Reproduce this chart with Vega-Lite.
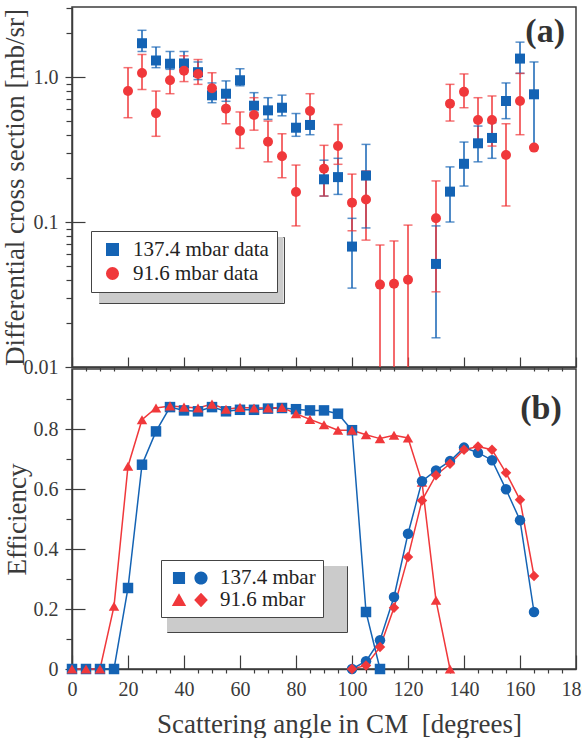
{
"$schema": "https://vega.github.io/schema/vega-lite/v6.json",
"padding": {"left": 0, "top": 6, "right": 0, "bottom": 0},
"bounds": "flush",
"spacing": 2,
"config": {
  "font": "'Liberation Serif', 'Times New Roman', Times, serif",
  "view": {"stroke": "#3c3c3c", "strokeWidth": 1.5},
  "axis": {"grid": false, "labelFont": "'Liberation Serif', 'Times New Roman', Times, serif", "titleFont": "'Liberation Serif', 'Times New Roman', Times, serif", "labelFontSize": 20, "titleFontSize": 27, "titleFontWeight": "normal", "labelColor": "#3a3a3a", "titleColor": "#3a3a3a", "domainColor": "#3c3c3c", "tickColor": "#3c3c3c", "domainWidth": 1.5, "tickWidth": 1.2, "labelFlush": false, "labelOverlap": false},
  "legend": {"labelFont": "'Liberation Serif', 'Times New Roman', Times, serif", "labelFontSize": 21, "labelColor": "#222222", "strokeColor": "#444444", "fillColor": "#ffffff", "title": null}
},
"datasets": {
  "xs": [
    {"s": "137.4 mbar data", "a": 25, "v": 1.71, "lo": 1.50, "hi": 2.10},
    {"s": "137.4 mbar data", "a": 30, "v": 1.30, "lo": 1.16, "hi": 1.61},
    {"s": "137.4 mbar data", "a": 35, "v": 1.235, "lo": 1.13, "hi": 1.50},
    {"s": "137.4 mbar data", "a": 40, "v": 1.24, "lo": 1.13, "hi": 1.50},
    {"s": "137.4 mbar data", "a": 45, "v": 1.08, "lo": 0.96, "hi": 1.27},
    {"s": "137.4 mbar data", "a": 50, "v": 0.748, "lo": 0.665, "hi": 0.91},
    {"s": "137.4 mbar data", "a": 55, "v": 0.767, "lo": 0.68, "hi": 0.94},
    {"s": "137.4 mbar data", "a": 60, "v": 0.95, "lo": 0.87, "hi": 1.14},
    {"s": "137.4 mbar data", "a": 65, "v": 0.634, "lo": 0.57, "hi": 0.78},
    {"s": "137.4 mbar data", "a": 70, "v": 0.589, "lo": 0.51, "hi": 0.72},
    {"s": "137.4 mbar data", "a": 75, "v": 0.614, "lo": 0.54, "hi": 0.75},
    {"s": "137.4 mbar data", "a": 80, "v": 0.447, "lo": 0.39, "hi": 0.56},
    {"s": "137.4 mbar data", "a": 85, "v": 0.467, "lo": 0.40, "hi": 0.60},
    {"s": "137.4 mbar data", "a": 90, "v": 0.197, "lo": 0.151, "hi": 0.267},
    {"s": "137.4 mbar data", "a": 95, "v": 0.204, "lo": 0.155, "hi": 0.275},
    {"s": "137.4 mbar data", "a": 100, "v": 0.0677, "lo": 0.035, "hi": 0.106},
    {"s": "137.4 mbar data", "a": 105, "v": 0.209, "lo": 0.091, "hi": 0.343},
    {"s": "137.4 mbar data", "a": 130, "v": 0.0514, "lo": 0.0159, "hi": 0.094},
    {"s": "137.4 mbar data", "a": 135, "v": 0.162, "lo": 0.10, "hi": 0.24},
    {"s": "137.4 mbar data", "a": 140, "v": 0.252, "lo": 0.177, "hi": 0.356},
    {"s": "137.4 mbar data", "a": 145, "v": 0.349, "lo": 0.26, "hi": 0.459},
    {"s": "137.4 mbar data", "a": 150, "v": 0.38, "lo": 0.275, "hi": 0.484},
    {"s": "137.4 mbar data", "a": 155, "v": 0.683, "lo": 0.516, "hi": 0.91},
    {"s": "137.4 mbar data", "a": 160, "v": 1.34, "lo": 1.06, "hi": 1.74},
    {"s": "137.4 mbar data", "a": 165, "v": 0.76, "lo": 0.33, "hi": 1.27},
    {"s": "91.6 mbar data", "a": 20, "v": 0.80, "lo": 0.524, "hi": 1.16},
    {"s": "91.6 mbar data", "a": 25, "v": 1.065, "lo": 0.82, "hi": 1.43},
    {"s": "91.6 mbar data", "a": 30, "v": 0.562, "lo": 0.39, "hi": 0.80},
    {"s": "91.6 mbar data", "a": 35, "v": 0.95, "lo": 0.767, "hi": 1.25},
    {"s": "91.6 mbar data", "a": 40, "v": 1.105, "lo": 0.93, "hi": 1.40},
    {"s": "91.6 mbar data", "a": 45, "v": 1.05, "lo": 0.89, "hi": 1.32},
    {"s": "91.6 mbar data", "a": 50, "v": 0.836, "lo": 0.72, "hi": 1.07},
    {"s": "91.6 mbar data", "a": 55, "v": 0.605, "lo": 0.476, "hi": 0.80},
    {"s": "91.6 mbar data", "a": 60, "v": 0.424, "lo": 0.322, "hi": 0.574},
    {"s": "91.6 mbar data", "a": 65, "v": 0.547, "lo": 0.43, "hi": 0.72},
    {"s": "91.6 mbar data", "a": 70, "v": 0.358, "lo": 0.26, "hi": 0.497},
    {"s": "91.6 mbar data", "a": 75, "v": 0.284, "lo": 0.202, "hi": 0.406},
    {"s": "91.6 mbar data", "a": 80, "v": 0.161, "lo": 0.094, "hi": 0.247},
    {"s": "91.6 mbar data", "a": 85, "v": 0.583, "lo": 0.45, "hi": 0.767},
    {"s": "91.6 mbar data", "a": 90, "v": 0.233, "lo": 0.151, "hi": 0.338},
    {"s": "91.6 mbar data", "a": 95, "v": 0.334, "lo": 0.25, "hi": 0.47},
    {"s": "91.6 mbar data", "a": 100, "v": 0.136, "lo": 0.087, "hi": 0.214},
    {"s": "91.6 mbar data", "a": 105, "v": 0.143, "lo": 0.075, "hi": 0.225},
    {"s": "91.6 mbar data", "a": 110, "v": 0.037, "lo": 0.001, "hi": 0.0694},
    {"s": "91.6 mbar data", "a": 115, "v": 0.0375, "lo": 0.001, "hi": 0.074},
    {"s": "91.6 mbar data", "a": 120, "v": 0.040, "lo": 0.001, "hi": 0.0952},
    {"s": "91.6 mbar data", "a": 130, "v": 0.106, "lo": 0.033, "hi": 0.192},
    {"s": "91.6 mbar data", "a": 135, "v": 0.655, "lo": 0.497, "hi": 0.89},
    {"s": "91.6 mbar data", "a": 140, "v": 0.79, "lo": 0.614, "hi": 1.05},
    {"s": "91.6 mbar data", "a": 145, "v": 0.505, "lo": 0.334, "hi": 0.72},
    {"s": "91.6 mbar data", "a": 150, "v": 0.505, "lo": 0.334, "hi": 0.74},
    {"s": "91.6 mbar data", "a": 155, "v": 0.29, "lo": 0.129, "hi": 0.476},
    {"s": "91.6 mbar data", "a": 160, "v": 0.683, "lo": 0.40, "hi": 1.06},
    {"s": "91.6 mbar data", "a": 165, "v": 0.326, "lo": 0.326, "hi": 0.326}
  ],
  "eff": [
    {"p": "137.4 mbar", "k": "137.4 mbar A", "a": 0, "e": 0},
    {"p": "137.4 mbar", "k": "137.4 mbar A", "a": 5, "e": 0},
    {"p": "137.4 mbar", "k": "137.4 mbar A", "a": 10, "e": 0},
    {"p": "137.4 mbar", "k": "137.4 mbar A", "a": 15, "e": 0},
    {"p": "137.4 mbar", "k": "137.4 mbar A", "a": 20, "e": 0.27},
    {"p": "137.4 mbar", "k": "137.4 mbar A", "a": 25, "e": 0.681},
    {"p": "137.4 mbar", "k": "137.4 mbar A", "a": 30, "e": 0.792},
    {"p": "137.4 mbar", "k": "137.4 mbar A", "a": 35, "e": 0.873},
    {"p": "137.4 mbar", "k": "137.4 mbar A", "a": 40, "e": 0.862},
    {"p": "137.4 mbar", "k": "137.4 mbar A", "a": 45, "e": 0.859},
    {"p": "137.4 mbar", "k": "137.4 mbar A", "a": 50, "e": 0.873},
    {"p": "137.4 mbar", "k": "137.4 mbar A", "a": 55, "e": 0.859},
    {"p": "137.4 mbar", "k": "137.4 mbar A", "a": 60, "e": 0.864},
    {"p": "137.4 mbar", "k": "137.4 mbar A", "a": 65, "e": 0.864},
    {"p": "137.4 mbar", "k": "137.4 mbar A", "a": 70, "e": 0.868},
    {"p": "137.4 mbar", "k": "137.4 mbar A", "a": 75, "e": 0.87},
    {"p": "137.4 mbar", "k": "137.4 mbar A", "a": 80, "e": 0.866},
    {"p": "137.4 mbar", "k": "137.4 mbar A", "a": 85, "e": 0.862},
    {"p": "137.4 mbar", "k": "137.4 mbar A", "a": 90, "e": 0.862},
    {"p": "137.4 mbar", "k": "137.4 mbar A", "a": 95, "e": 0.851},
    {"p": "137.4 mbar", "k": "137.4 mbar A", "a": 100, "e": 0.796},
    {"p": "137.4 mbar", "k": "137.4 mbar A", "a": 105, "e": 0.19},
    {"p": "137.4 mbar", "k": "137.4 mbar A", "a": 110, "e": 0},
    {"p": "91.6 mbar", "k": "91.6 mbar A", "a": 0, "e": 0},
    {"p": "91.6 mbar", "k": "91.6 mbar A", "a": 5, "e": 0},
    {"p": "91.6 mbar", "k": "91.6 mbar A", "a": 10, "e": 0},
    {"p": "91.6 mbar", "k": "91.6 mbar A", "a": 15, "e": 0.209},
    {"p": "91.6 mbar", "k": "91.6 mbar A", "a": 20, "e": 0.676},
    {"p": "91.6 mbar", "k": "91.6 mbar A", "a": 25, "e": 0.831},
    {"p": "91.6 mbar", "k": "91.6 mbar A", "a": 30, "e": 0.87},
    {"p": "91.6 mbar", "k": "91.6 mbar A", "a": 35, "e": 0.877},
    {"p": "91.6 mbar", "k": "91.6 mbar A", "a": 40, "e": 0.873},
    {"p": "91.6 mbar", "k": "91.6 mbar A", "a": 45, "e": 0.87},
    {"p": "91.6 mbar", "k": "91.6 mbar A", "a": 50, "e": 0.883},
    {"p": "91.6 mbar", "k": "91.6 mbar A", "a": 55, "e": 0.866},
    {"p": "91.6 mbar", "k": "91.6 mbar A", "a": 60, "e": 0.872},
    {"p": "91.6 mbar", "k": "91.6 mbar A", "a": 65, "e": 0.87},
    {"p": "91.6 mbar", "k": "91.6 mbar A", "a": 70, "e": 0.87},
    {"p": "91.6 mbar", "k": "91.6 mbar A", "a": 75, "e": 0.872},
    {"p": "91.6 mbar", "k": "91.6 mbar A", "a": 80, "e": 0.851},
    {"p": "91.6 mbar", "k": "91.6 mbar A", "a": 85, "e": 0.832},
    {"p": "91.6 mbar", "k": "91.6 mbar A", "a": 90, "e": 0.814},
    {"p": "91.6 mbar", "k": "91.6 mbar A", "a": 95, "e": 0.796},
    {"p": "91.6 mbar", "k": "91.6 mbar A", "a": 100, "e": 0.796},
    {"p": "91.6 mbar", "k": "91.6 mbar A", "a": 105, "e": 0.781},
    {"p": "91.6 mbar", "k": "91.6 mbar A", "a": 110, "e": 0.768},
    {"p": "91.6 mbar", "k": "91.6 mbar A", "a": 115, "e": 0.779},
    {"p": "91.6 mbar", "k": "91.6 mbar A", "a": 120, "e": 0.77},
    {"p": "91.6 mbar", "k": "91.6 mbar A", "a": 125, "e": 0.623},
    {"p": "91.6 mbar", "k": "91.6 mbar A", "a": 130, "e": 0.229},
    {"p": "91.6 mbar", "k": "91.6 mbar A", "a": 135, "e": 0},
    {"p": "137.4 mbar", "k": "137.4 mbar B", "a": 100, "e": 0},
    {"p": "137.4 mbar", "k": "137.4 mbar B", "a": 105, "e": 0.026},
    {"p": "137.4 mbar", "k": "137.4 mbar B", "a": 110, "e": 0.096},
    {"p": "137.4 mbar", "k": "137.4 mbar B", "a": 115, "e": 0.24},
    {"p": "137.4 mbar", "k": "137.4 mbar B", "a": 120, "e": 0.451},
    {"p": "137.4 mbar", "k": "137.4 mbar B", "a": 125, "e": 0.626},
    {"p": "137.4 mbar", "k": "137.4 mbar B", "a": 130, "e": 0.662},
    {"p": "137.4 mbar", "k": "137.4 mbar B", "a": 135, "e": 0.693},
    {"p": "137.4 mbar", "k": "137.4 mbar B", "a": 140, "e": 0.738},
    {"p": "137.4 mbar", "k": "137.4 mbar B", "a": 145, "e": 0.721},
    {"p": "137.4 mbar", "k": "137.4 mbar B", "a": 150, "e": 0.696},
    {"p": "137.4 mbar", "k": "137.4 mbar B", "a": 155, "e": 0.599},
    {"p": "137.4 mbar", "k": "137.4 mbar B", "a": 160, "e": 0.496},
    {"p": "137.4 mbar", "k": "137.4 mbar B", "a": 165, "e": 0.19},
    {"p": "91.6 mbar", "k": "91.6 mbar B", "a": 100, "e": 0},
    {"p": "91.6 mbar", "k": "91.6 mbar B", "a": 105, "e": 0.012},
    {"p": "91.6 mbar", "k": "91.6 mbar B", "a": 110, "e": 0.073},
    {"p": "91.6 mbar", "k": "91.6 mbar B", "a": 115, "e": 0.204},
    {"p": "91.6 mbar", "k": "91.6 mbar B", "a": 120, "e": 0.373},
    {"p": "91.6 mbar", "k": "91.6 mbar B", "a": 125, "e": 0.562},
    {"p": "91.6 mbar", "k": "91.6 mbar B", "a": 130, "e": 0.646},
    {"p": "91.6 mbar", "k": "91.6 mbar B", "a": 135, "e": 0.684},
    {"p": "91.6 mbar", "k": "91.6 mbar B", "a": 140, "e": 0.731},
    {"p": "91.6 mbar", "k": "91.6 mbar B", "a": 145, "e": 0.742},
    {"p": "91.6 mbar", "k": "91.6 mbar B", "a": 150, "e": 0.731},
    {"p": "91.6 mbar", "k": "91.6 mbar B", "a": 155, "e": 0.654},
    {"p": "91.6 mbar", "k": "91.6 mbar B", "a": 160, "e": 0.564},
    {"p": "91.6 mbar", "k": "91.6 mbar B", "a": 165, "e": 0.31}
  ]
},
"vconcat": [
  {
    "width": 504, "height": 360,
    "data": {"name": "xs"},
    "layer": [
      {
        "mark": {"type": "rule", "strokeWidth": 1.5, "clip": true},
        "encoding": {
          "x": {"field": "a", "type": "quantitative", "scale": {"domain": [0, 180]},
                "axis": {"orient": "bottom", "values": [0, 20, 40, 60, 80, 100, 120, 140, 160, 180], "labels": false, "tickSize": -10, "title": null, "domain": true}},
          "y": {"field": "lo", "type": "quantitative", "scale": {"type": "log", "domain": [0.01, 3.04]},
                "axis": {"orient": "left", "values": [0.01, 0.1, 1], "labelExpr": "datum.value >= 1 ? '1.0' : (datum.value >= 0.1 ? '0.1' : '0.01')", "tickSize": 7, "labelPadding": 7, "title": "Differential cross section [mb/sr]", "titlePadding": -6}},
          "y2": {"field": "hi"},
          "color": {"field": "s", "type": "nominal", "scale": {"domain": ["137.4 mbar data", "91.6 mbar data"], "range": ["#1463b4", "#f0383b"]},
                    "legend": {"orient": "none", "legendX": 27, "legendY": 230, "padding": 0, "rowPadding": 0, "symbolType": "M-1,-1H11.3V1.2H-1Z", "symbolSize": 900, "symbolOffset": 0, "labelOffset": 0, "symbolStrokeWidth": 0, "labelExpr": "''", "fillColor": null, "strokeColor": null,
                               "encode": {"symbols": {"update": {"fill": {"value": "#cbcbcb"}, "stroke": {"value": "transparent"}, "opacity": {"value": 1}, "shape": {"value": "M-1,-1H11.3V1.2H-1Z"}}}}}}
        }
      },
      {
        "mark": {"type": "tick", "orient": "horizontal", "size": 9, "thickness": 1.5, "clip": true},
        "encoding": {
          "x": {"field": "a", "type": "quantitative", "scale": {"domain": [0, 180]},
                "axis": {"orient": "bottom", "values": [5, 10, 15, 25, 30, 35, 45, 50, 55, 65, 70, 75, 85, 90, 95, 105, 110, 115, 125, 130, 135, 145, 150, 155, 165, 170, 175], "labels": false, "tickSize": 4, "domain": false, "title": null}},
          "y": {"field": "lo", "type": "quantitative", "scale": {"type": "log", "domain": [0.01, 3.04]},
                "axis": {"orient": "left", "values": [0.01, 0.1, 1], "labels": false, "tickSize": -13, "domain": false, "title": null}},
          "color": {"field": "s", "type": "nominal", "scale": {"domain": ["137.4 mbar data", "91.6 mbar data"], "range": ["#1463b4", "#f0383b"]}, "legend": null}
        }
      },
      {
        "mark": {"type": "tick", "orient": "horizontal", "size": 9, "thickness": 1.5, "clip": true},
        "encoding": {
          "x": {"field": "a", "type": "quantitative", "scale": {"domain": [0, 180]}, "axis": null},
          "y": {"field": "hi", "type": "quantitative", "scale": {"type": "log", "domain": [0.01, 3.04]},
                "axis": {"orient": "left", "values": [0.02, 0.03, 0.04, 0.05, 0.06, 0.07, 0.08, 0.09, 0.2, 0.3, 0.4, 0.5, 0.6, 0.7, 0.8, 0.9, 2, 3], "labels": false, "tickSize": 6, "domain": false, "title": null}},
          "color": {"field": "s", "type": "nominal", "scale": {"domain": ["137.4 mbar data", "91.6 mbar data"], "range": ["#1463b4", "#f0383b"]}, "legend": null}
        }
      },
      {
        "mark": {"type": "point", "filled": true, "size": 100, "opacity": 1, "clip": true},
        "encoding": {
          "x": {"field": "a", "type": "quantitative", "scale": {"domain": [0, 180]}, "axis": null},
          "y": {"field": "v", "type": "quantitative", "scale": {"type": "log", "domain": [0.01, 3.04]}, "axis": null},
          "color": {"field": "s", "type": "nominal", "scale": {"domain": ["137.4 mbar data", "91.6 mbar data"], "range": ["#1463b4", "#f0383b"]},
                    "legend": {"orient": "none", "legendX": 19, "legendY": 224, "padding": 8, "rowPadding": 2, "symbolSize": 170, "symbolOffset": 3, "labelOffset": 10, "symbolStrokeWidth": 0, "labelExpr": "datum.label == '91.6 mbar data' ? '\u2002' + datum.label : datum.label"}},
          "shape": {"field": "s", "type": "nominal", "scale": {"domain": ["137.4 mbar data", "91.6 mbar data"], "range": ["square", "circle"]},
                    "legend": {"orient": "none", "legendX": 19, "legendY": 224, "padding": 8, "rowPadding": 2, "symbolSize": 170, "symbolOffset": 3, "labelOffset": 10, "symbolStrokeWidth": 0, "labelExpr": "datum.label == '91.6 mbar data' ? '\u2002' + datum.label : datum.label"}}
        }
      },
      {
        "data": {"values": [{}]},
        "mark": {"type": "text", "text": "(a)", "font": "'Liberation Serif', 'Times New Roman', Times, serif", "fontSize": 34, "fontWeight": "bold", "color": "#333333", "align": "center", "baseline": "middle"},
        "encoding": {
          "x": {"datum": 169, "type": "quantitative", "scale": {"domain": [0, 180]}, "axis": null},
          "y": {"datum": 2.04, "type": "quantitative", "scale": {"type": "log", "domain": [0.01, 3.04]}, "axis": null}
        }
      }
    ],
    "resolve": {"scale": {"color": "independent", "shape": "independent"}, "axis": {"x": "independent", "y": "independent"}}
  },
  {
    "width": 504, "height": 300,
    "data": {"name": "eff"},
    "layer": [
      {
        "mark": {"type": "line", "strokeWidth": 1.5},
        "encoding": {
          "x": {"field": "a", "type": "quantitative", "scale": {"domain": [0, 180]},
                "axis": {"orient": "bottom", "values": [0, 20, 40, 60, 80, 100, 120, 140, 160, 180], "ticks": false, "labelPadding": 10, "title": "Scattering angle in CM\u2002[degrees]", "titleX": 267, "titleAlign": "center", "titlePadding": 12, "domain": true}},
          "y": {"field": "e", "type": "quantitative", "scale": {"domain": [0, 1]},
                "axis": {"orient": "left", "values": [0, 0.2, 0.4, 0.6, 0.8], "labelExpr": "datum.value == 0 ? '0' : format(datum.value, '.1f')", "tickSize": 7, "labelPadding": 7, "title": "Efficiency", "titlePadding": 2}},
          "color": {"field": "p", "type": "nominal", "scale": {"domain": ["137.4 mbar", "91.6 mbar"], "range": ["#1463b4", "#f0383b"]},
                    "legend": {"orient": "none", "legendX": 95, "legendY": 197, "padding": 0, "rowPadding": 0, "symbolType": "M-1,-1H11V1.2H-1Z", "symbolSize": 900, "symbolOffset": 0, "labelOffset": 0, "symbolStrokeWidth": 0, "labelExpr": "''", "fillColor": null, "strokeColor": null,
                               "encode": {"symbols": {"update": {"fill": {"value": "#cbcbcb"}, "stroke": {"value": "transparent"}, "opacity": {"value": 1}, "shape": {"value": "M-1,-1H11V1.2H-1Z"}}}}}},
          "detail": {"field": "k"}
        }
      },
      {
        "mark": {"type": "point", "filled": true, "size": 110, "opacity": 1},
        "encoding": {
          "x": {"field": "a", "type": "quantitative", "scale": {"domain": [0, 180]},
                "axis": {"orient": "bottom", "values": [0, 20, 40, 60, 80, 100, 120, 140, 160, 180], "labels": false, "tickSize": -14, "domain": false, "title": null}},
          "y": {"field": "e", "type": "quantitative", "scale": {"domain": [0, 1]},
                "axis": {"orient": "left", "values": [0, 0.2, 0.4, 0.6, 0.8], "labels": false, "tickSize": -13, "domain": false, "title": null}},
          "color": {"field": "p", "type": "nominal", "scale": {"domain": ["137.4 mbar", "91.6 mbar"], "range": ["#1463b4", "#f0383b"]}, "legend": null},
          "shape": {"field": "k", "type": "nominal", "scale": {"domain": ["137.4 mbar A", "137.4 mbar B", "91.6 mbar A", "91.6 mbar B"], "range": ["square", "circle", "triangle-up", "diamond"]}, "legend": null}
        }
      },
      {
        "mark": {"type": "point", "filled": true, "size": 110, "opacity": 0},
        "encoding": {
          "x": {"field": "a", "type": "quantitative", "scale": {"domain": [0, 180]},
                "axis": {"orient": "bottom", "values": [5, 10, 15, 25, 30, 35, 45, 50, 55, 65, 70, 75, 85, 90, 95, 105, 110, 115, 125, 130, 135, 145, 150, 155, 165, 170, 175], "labels": false, "tickSize": 4, "domain": false, "title": null}},
          "y": {"field": "e", "type": "quantitative", "scale": {"domain": [0, 1]},
                "axis": {"orient": "left", "values": [0.1, 0.3, 0.5, 0.7, 0.9], "labels": false, "tickSize": 6, "domain": false, "title": null}},
          "color": {"field": "p", "type": "nominal", "scale": {"domain": ["137.4 mbar", "91.6 mbar"], "range": ["#1463b4", "#f0383b"]},
                    "legend": {"orient": "none", "legendX": 89, "legendY": 191, "padding": 7, "rowPadding": 1, "symbolSize": 484, "symbolOpacity": 1, "labelOffset": 30, "symbolStrokeWidth": 0, "labelExpr": "(datum.label == '91.6 mbar' ? '\u2002' + datum.label : datum.label) + '\u2002'"}},
          "shape": {"field": "p", "type": "nominal", "scale": {"domain": ["137.4 mbar", "91.6 mbar"], "range": ["M-0.55,-0.55H0.55V0.55H-0.55Z M1.4,0A0.6,0.6,0,1,0,2.6,0A0.6,0.6,0,1,0,1.4,0Z", "M0,-0.62L0.65,0.55L-0.65,0.55Z M2,-0.65L2.62,0L2,0.65L1.38,0Z"]},
                    "legend": {"orient": "none", "legendX": 89, "legendY": 191, "padding": 7, "rowPadding": 1, "symbolSize": 484, "symbolOpacity": 1, "labelOffset": 30, "symbolStrokeWidth": 0, "labelExpr": "(datum.label == '91.6 mbar' ? '\u2002' + datum.label : datum.label) + '\u2002'"}}
        }
      },
      {
        "data": {"values": [{}]},
        "mark": {"type": "text", "text": "(b)", "font": "'Liberation Serif', 'Times New Roman', Times, serif", "fontSize": 34, "fontWeight": "bold", "color": "#333333", "align": "center", "baseline": "middle"},
        "encoding": {
          "x": {"datum": 167.5, "type": "quantitative", "scale": {"domain": [0, 180]}, "axis": null},
          "y": {"datum": 0.867, "type": "quantitative", "scale": {"domain": [0, 1]}, "axis": null}
        }
      }
    ],
    "resolve": {"scale": {"color": "independent", "shape": "independent"}, "axis": {"x": "independent", "y": "independent"}}
  }
]
}
